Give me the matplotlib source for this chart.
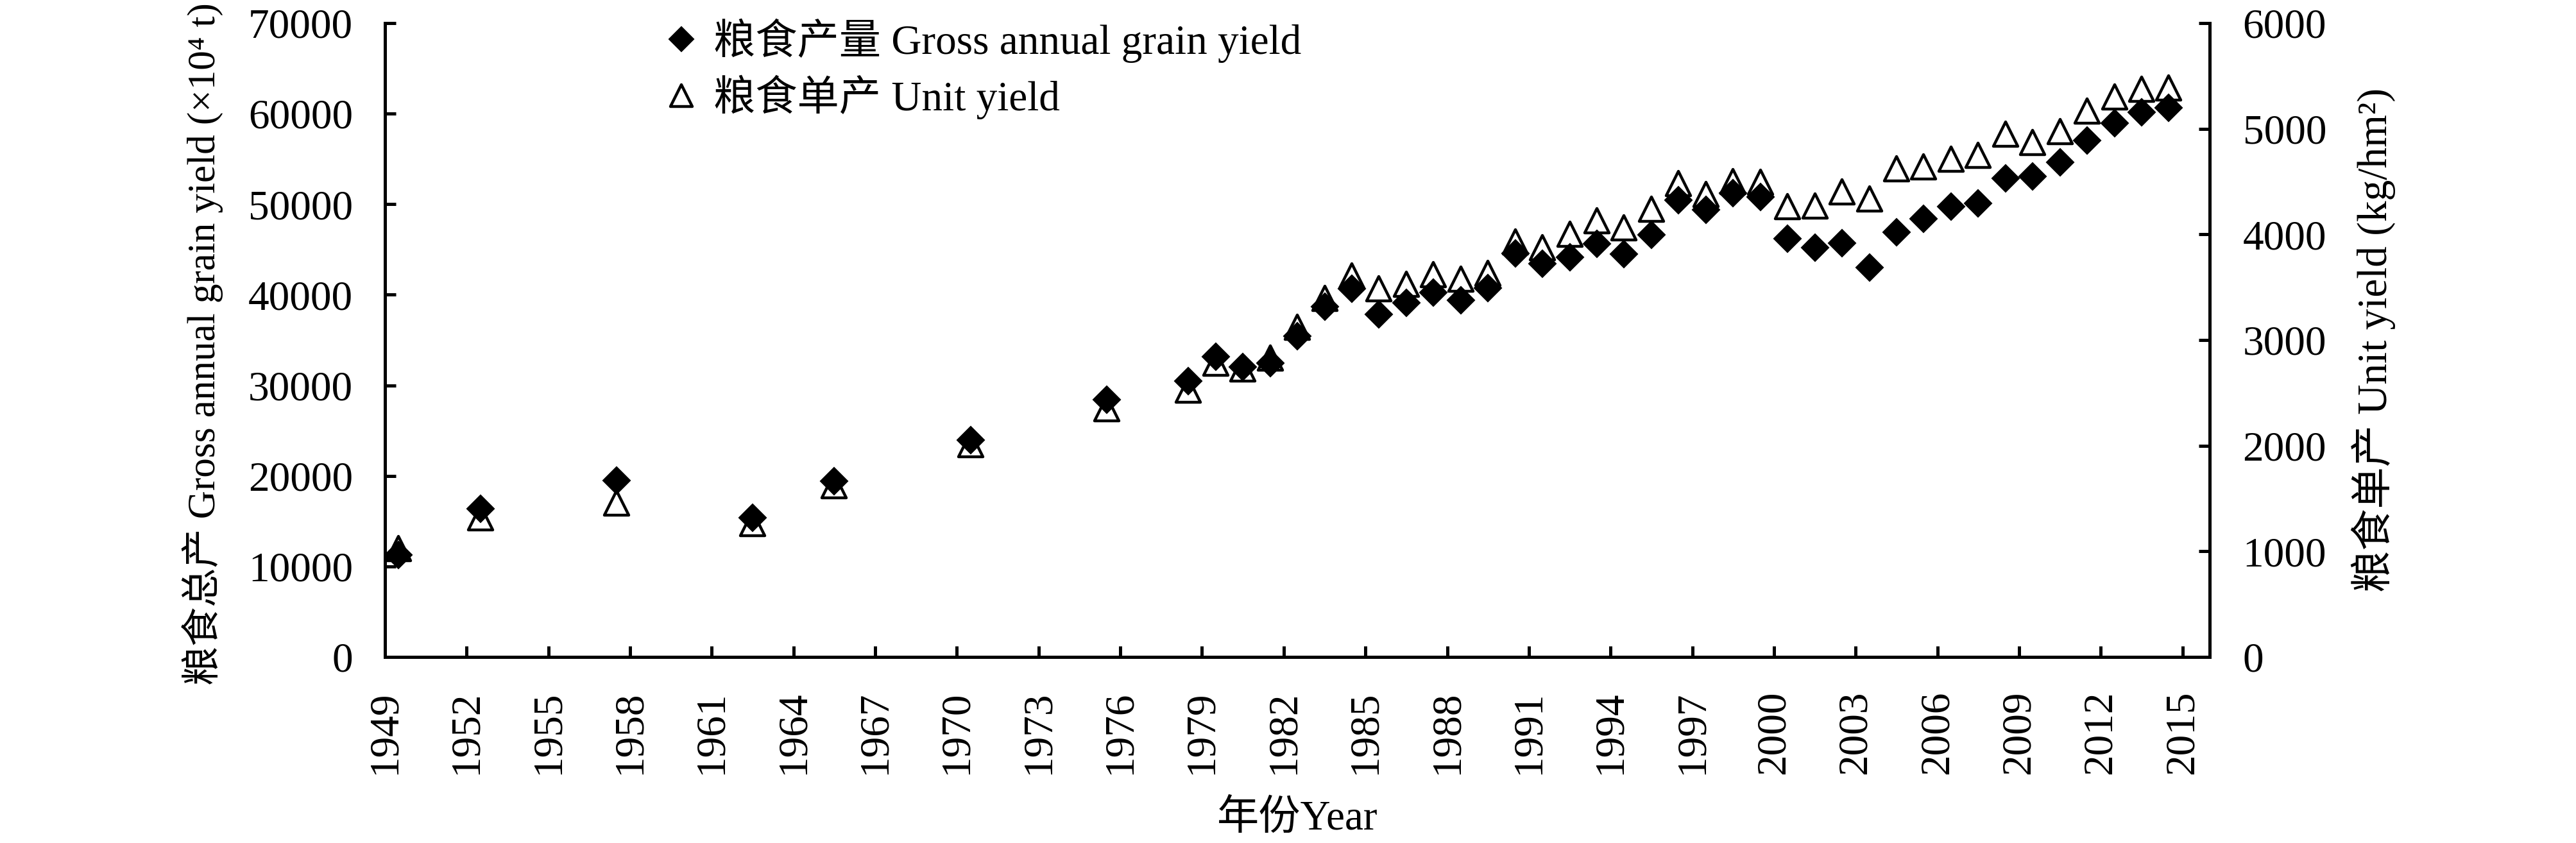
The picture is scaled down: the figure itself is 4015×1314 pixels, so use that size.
import matplotlib
matplotlib.use("Agg")
import matplotlib.pyplot as plt
from matplotlib.markers import MarkerStyle
import numpy as np

plt.rcParams['font.family'] = ['Liberation Serif', 'Noto Sans CJK SC', 'DejaVu Serif']

years = [1949, 1952, 1957, 1962, 1965, 1970, 1975, 1978, 1979, 1980,
         1981, 1982, 1983, 1984, 1985, 1986, 1987, 1988, 1989, 1990,
         1991, 1992, 1993, 1994, 1995, 1996, 1997, 1998, 1999, 2000,
         2001, 2002, 2003, 2004, 2005, 2006, 2007, 2008, 2009, 2010,
         2011, 2012, 2013, 2014]

# 粮食总产 (10^4 t)
gross = [11300, 16350, 19450, 15400, 19400, 23950, 28400, 30450, 33150, 32000,
         32450, 35400, 38680, 40700, 37800, 39100, 40250, 39380, 40720, 44600,
         43450, 44150, 45620, 44480, 46600, 50430, 49380, 51200, 50820, 46180,
         45220, 45680, 43030, 46920, 48380, 49750, 50120, 52820, 53050, 54620,
         57060, 58920, 60160, 60680]

# 粮食单产 (kg/hm2)
unit = [1027, 1320, 1455, 1265, 1622, 2010, 2348, 2525, 2782, 2728,
        2828, 3122, 3396, 3607, 3484, 3528, 3622, 3579, 3630, 3930,
        3875, 4003, 4130, 4060, 4239, 4484, 4376, 4503, 4492, 4263,
        4268, 4400, 4335, 4621, 4642, 4715, 4747, 4950, 4871, 4975,
        5168, 5301, 5377, 5385]

xticks = list(range(1949, 2016, 3))

FS = 47
x = np.array(years) + 0.5

fig = plt.figure(figsize=(40.16, 13.14), dpi=100)
ax = fig.add_axes([0.1494, 0.2207, 0.8576 - 0.1494, 0.9726 - 0.2207])
ax2 = ax.twinx()

tri = MarkerStyle('^', joinstyle='round')
l1, = ax.plot(x, gross, linestyle='none', marker='D', ms=21, mfc='black',
              mec='black', mew=1.5)
l2, = ax2.plot(x, unit, linestyle='none', marker=tri, ms=27, mfc='none',
               mec='black', mew=3.2)

ax.set_xlim(1949, 2016)
ax.set_ylim(0, 70000)
ax2.set_ylim(0, 6000)
ax.set_xticks(xticks)
ax.set_xticklabels([str(v) for v in xticks], rotation=90)
ax.set_yticks(range(0, 70001, 10000))
ax2.set_yticks(range(0, 6001, 1000))

for a in (ax, ax2):
    for s in a.spines.values():
        s.set_linewidth(3.6)
    a.spines['top'].set_visible(False)
ax.spines['right'].set_visible(False)
ax2.spines['left'].set_visible(False)
ax2.spines['bottom'].set_visible(False)

ax.tick_params(axis='x', direction='in', length=12, width=3.6, labelsize=FS, pad=38)
ax.tick_params(axis='y', direction='in', length=12, width=3.6, labelsize=FS, pad=36)
ax2.tick_params(axis='y', direction='in', length=12, width=3.6, labelsize=FS, pad=37)

ax.set_xlabel('年份Year', fontsize=FS)
ax.xaxis.set_label_coords(0.5, -0.2257)
ax.set_ylabel('粮食总产 Gross annual grain yield (×10⁴ t)', fontsize=44)
ax.yaxis.set_label_coords(-0.0886, 0.494)
ax2.set_ylabel('粮食单产 Unit yield (kg/hm²)', fontsize=FS)
ax2.yaxis.set_label_coords(1.0777, 0.5)

ax2.legend([l1, l2], ['粮食产量 Gross annual grain yield', '粮食单产 Unit yield'],
           loc='upper left', bbox_to_anchor=(0.1533, 1.0075), frameon=False,
           fontsize=FS, handlelength=0.8, handletextpad=0.366, labelspacing=0.29,
           borderpad=0, borderaxespad=0, numpoints=1, markerscale=0.9)

fig.savefig('out.png', dpi=100)
